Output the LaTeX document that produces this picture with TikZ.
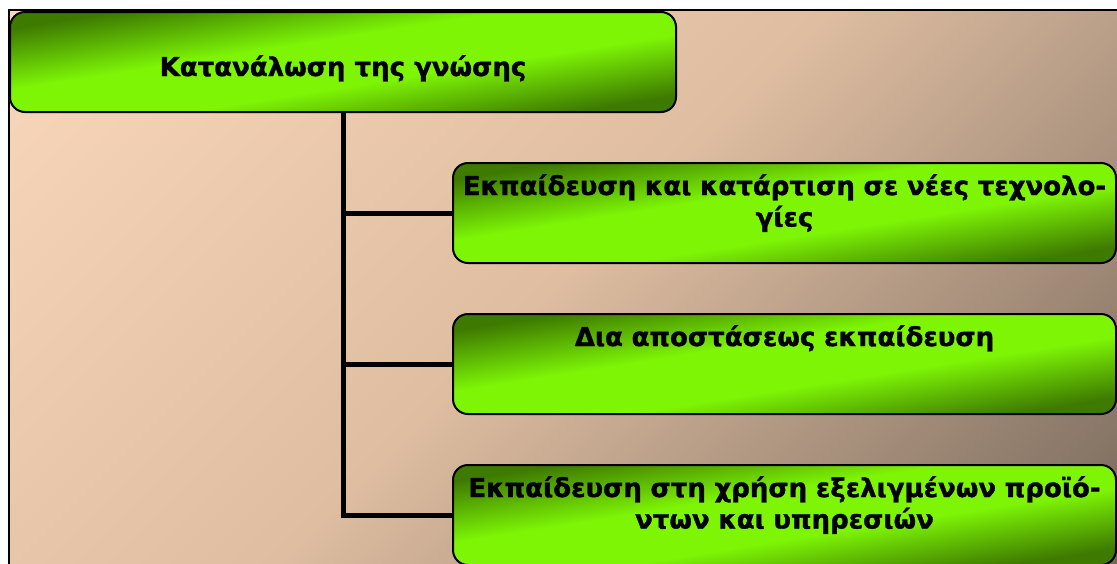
\documentclass[tikz,border=0pt]{standalone}
\usepackage{fontspec}
\setmainfont{DejaVu Sans}[BoldFeatures={FakeBold=1.2}]
\usepackage{tikz}
\usetikzlibrary{positioning,calc}

\definecolor{peachlight}{RGB}{250,216,188}
\definecolor{peachmid}{RGB}{222,189,161}
\definecolor{peachdark}{RGB}{120,105,92}
\definecolor{leafdark}{RGB}{62,122,0}
\definecolor{leafbright}{RGB}{125,245,5}

\pgfdeclareverticalshading{leafshade}{100bp}{color(0bp)=(leafdark); color(26bp)=(leafdark);
  color(43bp)=(leafbright); color(57bp)=(leafbright); color(74bp)=(leafdark); color(100bp)=(leafdark)}

\begin{document}
\begin{tikzpicture}[x=1pt, y=-1pt,
  greenbox/.style={draw=black, line width=2pt, rounded corners=15pt,
    shading=leafshade, shading angle=9, inner sep=0pt},
  topic/.style={greenbox, minimum width=666pt, text height=64pt, text depth=36pt,
    font=\fontsize{26}{31}\selectfont\bfseries},
  subtopic/.style={greenbox, minimum width=663pt, text width=663pt, align=center,
    text height=32pt, text depth=68pt, font=\fontsize{26}{31.5}\selectfont\bfseries},
  trunk/.style={line width=5pt}]

\useasboundingbox (0,0) rectangle (1117,563);
\clip (0,0) rectangle (1117,563);

% background panel
\begin{scope}
  \clip (9,10) rectangle (1130,580);
  \shade[top color=peachlight, bottom color=peachdark, middle color=peachmid,
    shading angle=45] (-34,-314) rectangle (1154,874);
\end{scope}
\draw[line width=2.5pt] (9,580) -- (9,10) -- (1130,10);

% boxes
\node[topic] (knowledge) at (343,62) {Κατανάλωση της γνώσης};
\node[subtopic] (training) at (784.5,213) {Εκπαίδευση και κατάρτιση σε νέες τεχνολο-\\γίες};
\node[subtopic] (distance) at (784.5,364) {Δια αποστάσεως εκπαίδευση};
\node[subtopic] (products) at (784.5,515) {Εκπαίδευση στη χρήση εξελιγμένων προϊό-\\ντων και υπηρεσιών};

% tree lines
\draw[trunk] (knowledge.south) -- (knowledge.south |- products.west) -- (products.west);
\draw[trunk] (knowledge.south |- training.west) -- (training.west);
\draw[trunk] (knowledge.south |- distance.west) -- (distance.west);

\end{tikzpicture}
\end{document}
